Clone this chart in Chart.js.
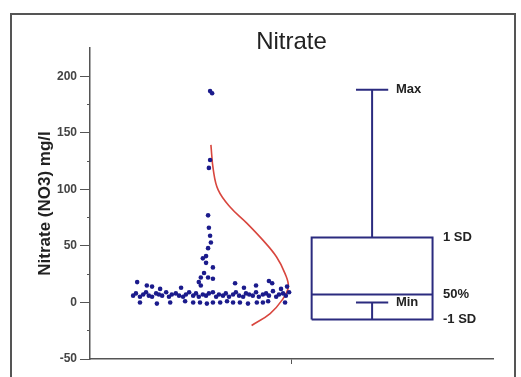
<!DOCTYPE html>
<html>
<head>
<meta charset="utf-8">
<script src="https://cdn.jsdelivr.net/npm/chart.js@4/dist/chart.umd.min.js"></script>
<style>
  html, body { margin: 0; padding: 0; background: #fff; }
  #wrap { position: relative; width: 521px; height: 377px; overflow: hidden; }
  #frame { position: absolute; left: 10px; top: 13px; width: 502px; height: 400px; border: 2px solid #555; }
  #c { position: absolute; left: 0; top: 0; }
</style>
</head>
<body>
<div id="wrap">
  <div id="frame"></div>
  <canvas id="c" width="521" height="377"></canvas>
</div>
<script>
// ---- data ----
const chartTitle = 'Nitrate';
const yAxisTitle = 'Nitrate (NO3) mg/l';

// main band of samples (x position within jitter strip, nitrate value)
const bandX = [10.7,11.4,12.4,13.2,13.9,14.6,15.4,16.4,17.1,17.9,18.9,19.6,20.3,21.3,22.1,23.1,23.8,24.6,25.6,26.3,27.0,28.0,28.8,29.5,30.5,31.3,32.0,33.0,33.7,34.5,35.5,36.2,37.0,38.0,38.7,39.5,40.4,41.2,41.9,42.9,43.7,44.4,45.4,46.2,46.9,47.9,48.6,49.4];
const bandY = [6,8,5,7,9,6,5,8,7,6,9,5,7,8,6,5,7,9,6,8,5,7,6,8,9,5,7,6,8,5,7,9,6,5,8,7,6,9,5,7,8,6,10,5,7,8,6,9];
// lower row of samples
const lowX = [12.4,16.6,19.9,23.6,25.6,27.3,29.0,30.5,32.3,34.0,35.5,37.2,39.2,41.4,42.9,44.2,48.4];
const lowY = [0,-1,0,1,0,0,-1,0,0,1,0,0,-1,0,0,1,0];
// upper scattered samples
const upX = [11.7,14.1,15.4,17.4,22.6,27.5,36.0,38.2,41.2,44.4,45.2,47.4,48.9];
const upY = [18,15,14,12,13,15,17,13,15,19,17,12,14];
// high-value column
const colX = [29.8,30.3,29.8,29.5,29.3,29.5,29.8,30.0,29.3,28.8,28.0,28.8,30.5,28.3,27.5,29.3,30.5,27.0];
const colY = [187,185,126,119,77,66,59,53,48,41,39,35,31,26,22,22,21,18];

// fitted normal curve (density position, nitrate value)
const curveX = [30.0,30.6,31.8,34.7,38.9,42.9,46.3,48.4,49.2,47.6,44.7,40.1];
const curveY = [139.4,117.2,99.5,84.6,70.2,55.1,40.2,25.5,13.6,1.8,-9.8,-20.4];

// box statistics
const statLabels = ['Max', '1 SD', '50%', 'Min', '-1 SD'];
const statValues = [188, 57.5, 7, 0, -15];

// axis ticks
const yMajorTicks = [-50, 0, 50, 100, 150, 200];
const yMinorTicks = [-50, -25, 0, 25, 50, 75, 100, 125, 150, 175, 200];

// ---- layout constants (x units of the strip) ----
const boxLeft = 55, boxRight = 85, whiskerX = 70, capHalf = 4;
const labelXNear = 75.9, labelXFar = 87.6;

const navy = '#2b2b7f';
const dotColor = '#1b1b8c';
const red = '#d8463e';
const font = "'Liberation Sans', Arial, sans-serif";

function pts(xs, ys) { return xs.map((x, i) => ({ x: x, y: ys[i] })); }
const [vMax, vHi, vMed, vMin, vLo] = statValues;

const lineDs = (data) => ({
  type: 'scatter', data: data, showLine: true, pointRadius: 0,
  borderColor: navy, borderWidth: 2, tension: 0, fill: false
});

const datasets = [
  { data: pts(bandX, bandY).concat(pts(lowX, lowY), pts(upX, upY), pts(colX, colY)),
    pointRadius: 2.3, pointBackgroundColor: dotColor, pointBorderColor: dotColor, pointBorderWidth: 0, showLine: false },
  { data: pts(curveX, curveY), showLine: true, pointRadius: 0, borderColor: red, borderWidth: 1.6, tension: 0.4, fill: false },
  lineDs([{x: boxLeft, y: vLo}, {x: boxRight, y: vLo}, {x: boxRight, y: vHi}, {x: boxLeft, y: vHi}, {x: boxLeft, y: vLo}]),
  lineDs([{x: boxLeft, y: vMed}, {x: boxRight, y: vMed}]),
  lineDs([{x: whiskerX, y: vHi}, {x: whiskerX, y: vMax}]),
  lineDs([{x: whiskerX - capHalf, y: vMax}, {x: whiskerX + capHalf, y: vMax}]),
  lineDs([{x: whiskerX, y: vLo}, {x: whiskerX, y: vMin}]),
  lineDs([{x: whiskerX - capHalf, y: vMin}, {x: whiskerX + capHalf, y: vMin}])
];

const statLabelPlugin = {
  id: 'statLabels',
  afterDatasetsDraw(chart) {
    const { ctx, scales: { x, y } } = chart;
    ctx.save();
    ctx.font = "bold 13px " + font;
    ctx.fillStyle = '#222';
    ctx.textBaseline = 'middle';
    ctx.textAlign = 'left';
    statLabels.forEach((lab, i) => {
      const xu = (lab === 'Max' || lab === 'Min') ? labelXNear : labelXFar;
      ctx.fillText(lab, x.getPixelForValue(xu), y.getPixelForValue(statValues[i]));
    });
    ctx.restore();
  }
};

new Chart(document.getElementById('c'), {
  type: 'scatter',
  data: { datasets: datasets },
  plugins: [statLabelPlugin],
  options: {
    responsive: false,
    animation: false,
    devicePixelRatio: 1,
    layout: { padding: { left: 0, right: 28, top: 0, bottom: 13 } },
    plugins: {
      legend: { display: false },
      tooltip: { enabled: false },
      title: {
        display: true, text: chartTitle, color: '#222', fullSize: false,
        font: { family: font, size: 24, weight: 'normal', lineHeight: 0.5 },
        padding: { top: 36, bottom: 0 }
      }
    },
    scales: {
      x: {
        type: 'linear', position: 'bottom', min: 0, max: 100,
        afterBuildTicks: (s) => { s.ticks = [{ value: 50 }]; },
        ticks: { display: false },
        grid: { drawOnChartArea: false, drawTicks: true, tickLength: 5, color: '#555', tickColor: '#555' },
        border: { display: true, color: '#555', width: 1.5 }
      },
      y: {
        type: 'linear', position: 'left', weight: 1, min: -50, max: 225,
        afterBuildTicks: (s) => { s.ticks = yMajorTicks.map(v => ({ value: v })); },
        ticks: { color: '#444', font: { family: font, size: 12, weight: 'bold' }, padding: 3 },
        grid: { drawOnChartArea: false, drawTicks: true, tickLength: 7, color: '#555', tickColor: '#555' },
        border: { display: false },
        title: {
          display: true, text: yAxisTitle, color: '#222',
          font: { family: font, size: 17, weight: 'bold' },
          padding: { top: 35, bottom: 0 }
        },
        afterFit: (s) => { s.width = 87; }
      },
      yMinor: {
        type: 'linear', position: 'left', weight: 0, min: -50, max: 225,
        afterBuildTicks: (s) => { s.ticks = yMinorTicks.map(v => ({ value: v })); },
        ticks: { display: false },
        grid: { drawOnChartArea: false, drawTicks: true, tickLength: 3, color: '#555', tickColor: '#555' },
        border: { display: true, color: '#555', width: 1.5 }
      }
    }
  }
});
</script>
</body>
</html>
